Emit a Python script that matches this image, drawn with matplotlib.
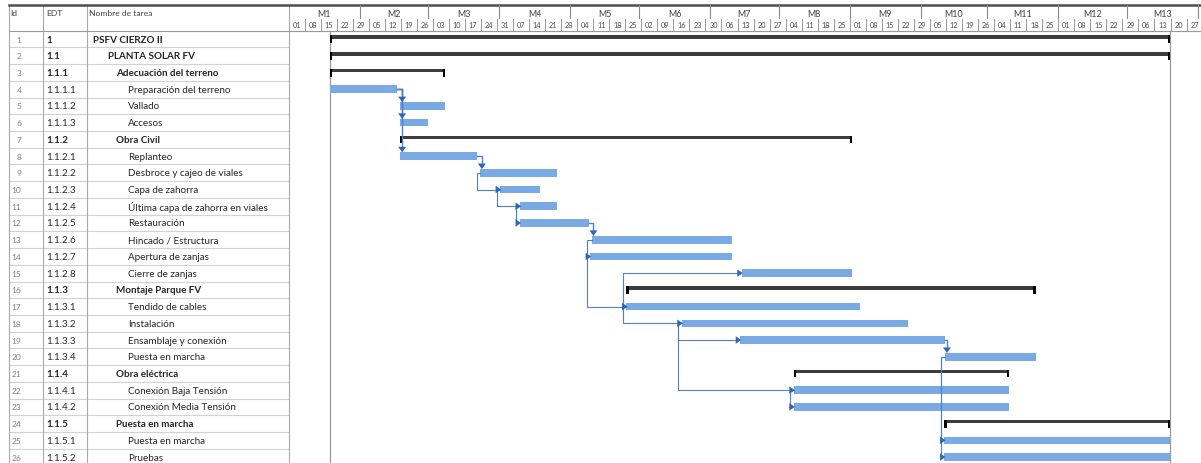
import datetime as dt
import matplotlib
matplotlib.use("Agg")
import matplotlib.pyplot as plt
from matplotlib.patches import Rectangle, Polygon

# ---------------- data ----------------
task_ids = list(range(1, 27))
edt = ["1", "1.1", "1.1.1", "1.1.1.1", "1.1.1.2", "1.1.1.3", "1.1.2", "1.1.2.1",
       "1.1.2.2", "1.1.2.3", "1.1.2.4", "1.1.2.5", "1.1.2.6", "1.1.2.7", "1.1.2.8",
       "1.1.3", "1.1.3.1", "1.1.3.2", "1.1.3.3", "1.1.3.4", "1.1.4", "1.1.4.1",
       "1.1.4.2", "1.1.5", "1.1.5.1", "1.1.5.2"]
names = ["PSFV CIERZO II", "PLANTA SOLAR FV", "Adecuación del terreno",
         "Preparación del terreno", "Vallado", "Accesos", "Obra Civil", "Replanteo",
         "Desbroce y cajeo de viales", "Capa de zahorra", "Última capa de zahorra en viales",
         "Restauración", "Hincado / Estructura", "Apertura de zanjas", "Cierre de zanjas",
         "Montaje Parque FV", "Tendido de cables", "Instalación", "Ensamblaje y conexión",
         "Puesta en marcha", "Obra eléctrica", "Conexión Baja Tensión",
         "Conexión Media Tensión", "Puesta en marcha", "Puesta en marcha", "Pruebas"]
levels = [1, 2, 3, 4, 4, 4, 3, 4, 4, 4, 4, 4, 4, 4, 4, 3, 4, 4, 4, 4, 3, 4, 4, 3, 4, 4]
is_summary = [l < 4 for l in levels]
# start / finish in days from 01-May-2023
start_day = [18.1, 18.1, 18.1, 18.1, 48.8, 48.8, 48.8, 48.8, 83.6, 92.3, 101.0, 101.0,
             132.3, 131.6, 197.8, 147.5, 147.5, 171.6, 197.1, 286.6, 220.5, 220.5,
             220.5, 286.3, 286.3, 286.3]
end_day = [384.9, 384.9, 68.3, 47.2, 68.3, 61.0, 246.1, 82.1, 117.1, 109.8, 117.1, 131.2,
           193.7, 193.7, 246.1, 326.1, 249.5, 270.3, 286.6, 326.1, 314.6, 314.6,
           314.6, 384.9, 384.9, 384.9]
# (predecessor id, successor id, link drawing kind)
links = [(4, 5, "FS"), (4, 6, "FS"), (4, 8, "FS"), (8, 9, "FS"), (9, 10, "SS"),
         (10, 11, "SS"), (11, 12, "SS"), (12, 13, "FS"), (13, 14, "SS"), (14, 17, "SS"),
         (17, 15, "SS"), (17, 18, "SS"), (18, 19, "SS"), (18, 22, "SS"), (22, 23, "SS"),
         (19, 20, "FS"), (20, 25, "SS"), (20, 26, "SS")]
month_labels = ["M1", "M2", "M3", "M4", "M5", "M6", "M7", "M8", "M9", "M10", "M11",
                "M12", "M13"]
week_labels = ["01", "08", "15", "22", "29", "05", "12", "19", "26", "03", "10", "17",
               "24", "31", "07", "14", "21", "28", "04", "11", "18", "25", "02", "09",
               "16", "23", "30", "06", "13", "20", "27", "04", "11", "18", "25", "01",
               "08", "15", "22", "29", "05", "12", "19", "26", "04", "11", "18", "25",
               "01", "08", "15", "22", "29", "06", "13", "20", "27"]
origin = dt.date(2023, 5, 1)

# ---------------- layout ----------------
W, H, DPI = 1201, 464, 100
GX0 = 288.5          # left edge of gantt (px)
HDR = 31.7           # header height (px)
ROWH = 16.72         # row height (px)
PX_PER_DAY = 2.291
TOP = 5.5
FONT = "Lato"

BAR_COLOR = "#7AAAE4"
LINK_COLOR = "#4F80C8"
HEAD_COLOR = "#2D67BC"
SUM_COLOR = "#3C3C3C"
GRID = "#D2D2D2"
COLSEP = "#A9A9A9"

fig = plt.figure(figsize=(W / DPI, H / DPI), dpi=DPI)
fig.patch.set_facecolor("white")

base = fig.add_axes([0, 0, 1, 1], zorder=0)
base.set_xlim(0, W)
base.set_ylim(H, 0)
base.axis("off")

x_max = (W - GX0) / PX_PER_DAY
gantt = fig.add_axes([GX0 / W, 0, (W - GX0) / W, (H - HDR) / H], zorder=2)
gantt.set_xlim(0, x_max)
gantt.set_ylim(0.5 + (H - HDR) / ROWH, 0.5)
gantt.axis("off")

hdr = fig.add_axes([GX0 / W, (H - HDR) / H, (W - GX0) / W, HDR / H], zorder=2)
hdr.set_xlim(0, x_max)
hdr.set_ylim(HDR, 0)
hdr.axis("off")

# ---------------- table ----------------
col_x = [9, 43, 87.3, GX0]
for k in range(1, 27):
    y = HDR + k * ROWH
    base.plot([9, GX0], [y, y], color=GRID, lw=0.8, zorder=1)
for x in col_x:
    base.plot([x, x], [TOP, H], color=COLSEP, lw=0.8, zorder=2)
base.plot([9, W], [TOP, TOP], color="#4D4D4D", lw=1.8, zorder=3)
base.plot([9, W], [HDR, HDR], color="#9A9A9A", lw=0.8, zorder=3)

hdr_kw = dict(fontsize=6.1, color="#404040", va="center", family=FONT)
base.text(10.5, 13.5, "Id", **hdr_kw)
base.text(46, 13.5, "EDT", **hdr_kw)
base.text(89, 13.5, "Nombre de tarea", **hdr_kw)

name_x = {1: 93, 2: 108, 3: 116, 4: 128}
for i, (tid, code, nm, lv, sm) in enumerate(zip(task_ids, edt, names, levels, is_summary)):
    yc = HDR + (i + 0.5) * ROWH
    w = "bold" if sm else "normal"
    base.text(21.5, yc, str(tid), fontsize=6.0, color="#808080", ha="right",
              va="center", family=FONT)
    base.text(46.5, yc, code, fontsize=7.0, color="#262626", ha="left",
              va="center", family=FONT, fontweight=w)
    base.text(name_x[lv], yc, nm, fontsize=7.1, color="#262626", ha="left",
              va="center", family=FONT, fontweight=w)

# ---------------- timescale header ----------------
def day_of(d):
    return (d - origin).days

month_starts = []
y_, m_ = origin.year, origin.month
for _ in range(len(month_labels) + 1):
    month_starts.append(day_of(dt.date(y_, m_, 1)))
    m_ += 1
    if m_ > 12:
        m_, y_ = 1, y_ + 1

TIER = 19.0
for k, lab in enumerate(month_labels):
    hdr.text((month_starts[k] + month_starts[k + 1]) / 2, 14.6, lab, fontsize=6.4,
             color="#404040", ha="center", va="center", family=FONT)
for ms in month_starts[1:]:
    hdr.plot([ms, ms], [TOP, TIER], color="#8C8C8C", lw=0.8)
for k, lab in enumerate(week_labels):
    hdr.text(7 * k + 3.5, 25.3, lab, fontsize=5.3, color="#505050", ha="center",
             va="center", family=FONT)
    if k > 0:
        hdr.plot([7 * k, 7 * k], [TIER + 1, HDR], color="#9A9A9A", lw=0.7)

# ---------------- gantt ----------------
BAR_H = 7.6 / ROWH
for x in (start_day[0], end_day[0]):
    gantt.axvline(x, color="#9A9A9A", lw=0.9, zorder=1)

days_per_px = 1 / PX_PER_DAY
rows_per_px = 1 / ROWH

for i, (s, e, sm) in enumerate(zip(start_day, end_day, is_summary)):
    r = i + 1
    if sm:
        th = 3.6 * rows_per_px
        yb = r - 3.8 * rows_per_px
        gantt.add_patch(Rectangle((s, yb), e - s, th, color=SUM_COLOR, lw=0, zorder=4))
        tw = 2.2 * days_per_px
        for tx in (s, e - tw):
            gantt.add_patch(Rectangle((tx, yb), tw, 7.8 * rows_per_px, color="black",
                                      lw=0, zorder=5))
    else:
        gantt.add_patch(Rectangle((s, r - BAR_H / 2), e - s, BAR_H, color=BAR_COLOR,
                                  lw=0, zorder=4))

aw = 4.0 * days_per_px   # half width of a down arrow
ah = 5.5 * rows_per_px   # height of a down arrow
al = 5.5 * days_per_px   # length of a right arrow
ahh = 3.8 * rows_per_px  # half height of a right arrow
for p, s, kind in links:
    pi, si = p - 1, s - 1
    if kind == "FS":
        vx = max(end_day[pi], start_day[si]) + 0.8
        ytop = s - BAR_H / 2
        gantt.plot([end_day[pi], vx, vx], [p, p, ytop - ah], color=LINK_COLOR,
                   lw=1.0, zorder=6, solid_joinstyle="round")
        gantt.add_patch(Polygon([(vx - aw, ytop - ah), (vx + aw, ytop - ah), (vx, ytop)],
                                closed=True, color=HEAD_COLOR, lw=0, zorder=7))
    else:
        vx = min(start_day[pi], start_day[si]) - 1.5
        tip = start_day[si] + 0.5
        gantt.plot([start_day[pi], vx, vx, tip - al], [p, p, s, s], color=LINK_COLOR,
                   lw=0.8, zorder=6, solid_joinstyle="round")
        gantt.add_patch(Polygon([(tip - al, s - ahh), (tip - al, s + ahh), (tip, s)],
                                closed=True, color=HEAD_COLOR, lw=0, zorder=7))

fig.savefig("out.png", dpi=DPI, facecolor="white")
